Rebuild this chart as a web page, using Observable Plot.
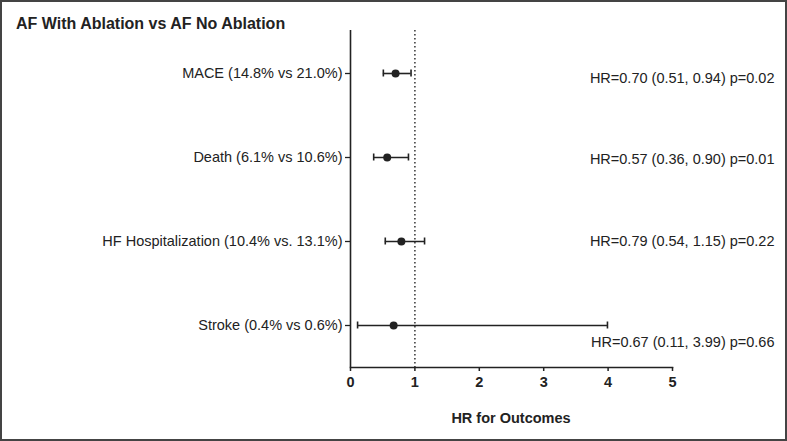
<!DOCTYPE html>
<html>
<head>
<meta charset="utf-8">
<script src="https://cdn.jsdelivr.net/npm/d3@7"></script>
<script src="https://cdn.jsdelivr.net/npm/@observablehq/plot@0.6"></script>
<style>
  html, body { margin: 0; padding: 0; background: #fff; }
  #wrap { position: relative; width: 787px; height: 441px; font-family: "Liberation Sans", Arial, sans-serif; color: #222; }
  #wrap svg { display: block; outline: 2px solid #444; outline-offset: -2px; }
  #title { position: absolute; left: 16px; top: 15.5px; font-size: 16px; line-height: 16px; font-weight: bold; white-space: nowrap; }
  #xlabel { position: absolute; left: 511px; top: 411px; transform: translateX(-50%); font-size: 14.5px; line-height: 14px; font-weight: bold; white-space: nowrap; }
  g[aria-label="x-axis tick label"] text { font-weight: bold; }
</style>
</head>
<body>
<div id="wrap">
  <div id="title">AF With Ablation vs AF No Ablation</div>
  <div id="xlabel">HR for Outcomes</div>
</div>
<script>
const outcomes = ["MACE (14.8% vs 21.0%)", "Death (6.1% vs 10.6%)", "HF Hospitalization (10.4% vs. 13.1%)", "Stroke (0.4% vs 0.6%)"];
const hr = [0.70, 0.57, 0.79, 0.67];
const ciLow = [0.51, 0.36, 0.54, 0.11];
const ciHigh = [0.94, 0.90, 1.15, 3.99];
const pValues = ["0.02", "0.01", "0.22", "0.66"];
const xTicks = [0, 1, 2, 3, 4, 5];

// layout only: vertical nudge of the annotation text relative to its row
const labelDy = [5, 2, 0, 17];

const rows = outcomes.map((o, i) => ({
  outcome: o, hr: hr[i], lo: ciLow[i], hi: ciHigh[i],
  text: `HR=${hr[i].toFixed(2)} (${ciLow[i].toFixed(2)}, ${ciHigh[i].toFixed(2)}) p=${pValues[i]}`
}));

const ink = "#222";

const plot = Plot.plot({
  width: 787,
  height: 441,
  marginLeft: 350,
  marginRight: 115,
  marginTop: 30,
  marginBottom: 74,
  style: { fontFamily: "'Liberation Sans', Arial, sans-serif", color: ink, background: "white", overflow: "visible" },
  x: { domain: [0, 5], ticks: xTicks },
  y: { type: "band", domain: outcomes, padding: 0 },
  marks: [
    Plot.ruleX([1], { stroke: "#333", strokeWidth: 1.5, strokeDasharray: "1.5,2.5" }),
    Plot.ruleX([0], { stroke: ink, strokeWidth: 1.6 }),
    Plot.frame({ anchor: "bottom", stroke: ink, strokeWidth: 1.6 }),
    Plot.axisX({ ticks: xTicks, tickFormat: d => String(d), tickSize: 4, tickPadding: 5, fontSize: 14.5, label: null, stroke: ink, strokeWidth: 1.5 }),
    Plot.axisY({ tickSize: 5, tickPadding: 3, fontSize: 14.5, label: null, stroke: ink, strokeWidth: 1.3 }),
    Plot.ruleY(rows, { y: "outcome", x1: "lo", x2: "hi", stroke: ink, strokeWidth: 1.6 }),
    Plot.tickX(rows, { y: "outcome", x: "lo", stroke: ink, strokeWidth: 1.6, insetTop: 38.5, insetBottom: 38.5 }),
    Plot.tickX(rows, { y: "outcome", x: "hi", stroke: ink, strokeWidth: 1.6, insetTop: 38.5, insetBottom: 38.5 }),
    Plot.dot(rows, { y: "outcome", x: "hr", r: 4, fill: ink, stroke: "none" }),
    ...rows.map((r, i) => Plot.text([r], {
      y: "outcome", text: "text", frameAnchor: "right", textAnchor: "end",
      dx: 102, dy: labelDy[i], fontSize: 14.5, fill: ink
    }))
  ]
});

document.getElementById("wrap").prepend(plot);
</script>
</body>
</html>
